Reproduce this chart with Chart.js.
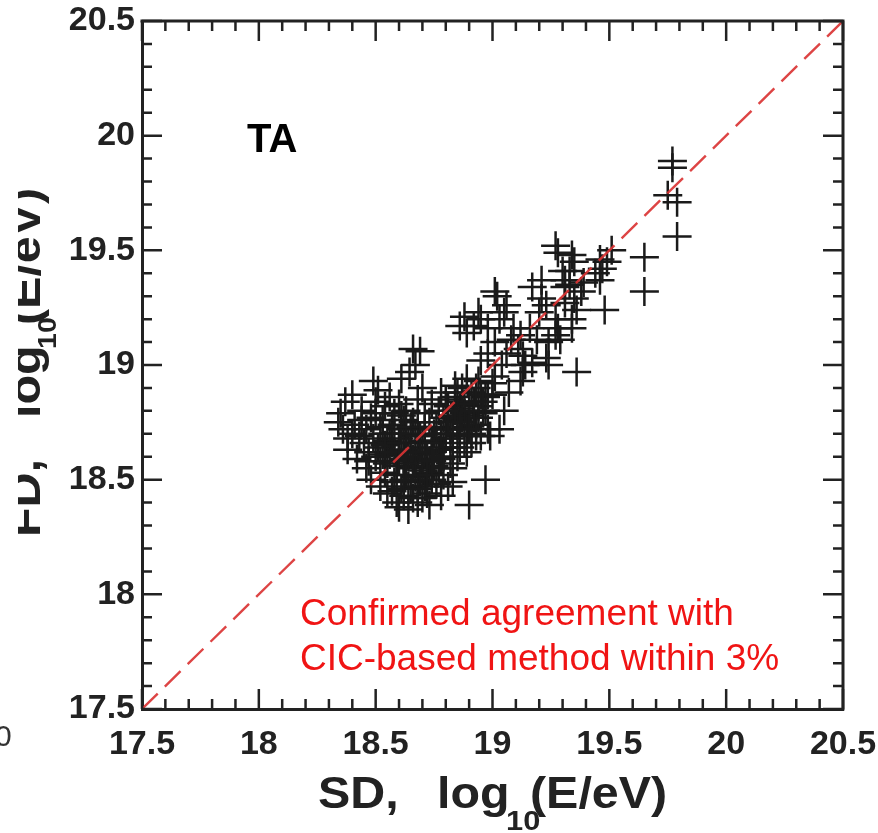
<!DOCTYPE html>
<html><head><meta charset="utf-8">
<style>html,body{margin:0;padding:0;background:#fff}canvas{display:block}</style>
<script src="https://cdn.jsdelivr.net/npm/chart.js@4.4.1/dist/chart.umd.min.js"></script>
</head><body>
<canvas id="c" width="878" height="833"></canvas>
<script>
// ---- data (log10 E/eV) ----
const sdEnergy = [
 19.77,19.77,19.75,19.79,19.79,19.65,19.65,19.48,19.36,19.27,
 19.28,19.34,19.35,19.33,19.51,19.49,19.47,19.46,19.30,19.31,
 19.31,19.38,19.35,19.36,19.34,19.21,19.17,19.21,19.23,19.20,
 19.27,19.28,19.27,19.24,19.23,19.24,19.13,19.12,19.14,19.01,
 19.02,19.06,19.05,18.94,18.95,18.92,18.86,18.89,18.98,19.03,
 19.09,19.08,19.11,19.06,19.01,18.98,18.95,19.04,19.01,19.00,
 18.98,18.66,18.69,18.67,18.645,18.61,18.97,18.90,18.83,19.44,
 19.33,19.31,19.16,19.19,19.12,19.34,18.88,19.46,19.39,19.29,
 19.17,
 18.34,18.35,18.37,18.40,18.38,18.38,18.42,18.43,18.41,18.44,
 18.46,18.48,18.47,18.45,18.46,18.48,18.49,18.51,18.50,18.52,
 18.52,18.51,18.53,18.50,18.55,18.54,18.56,18.55,18.57,18.54,
 18.56,18.59,18.58,18.59,18.60,18.58,18.61,18.60,18.62,18.63,
 18.62,18.64,18.61,18.64,18.65,18.66,18.65,18.67,18.66,18.63,
 18.70,18.68,18.69,18.70,18.69,18.71,18.68,18.72,18.73,18.72,
 18.74,18.71,18.73,18.76,18.75,18.77,18.76,18.74,18.78,18.79,
 18.78,18.80,18.79,18.78,18.81,18.82,18.83,18.82,18.81,18.84,
 18.83,18.85,18.86,18.85,18.86,18.87,18.88,18.89,18.88,18.90,
 18.89,18.91,18.92,18.91,18.93,18.94,18.95,18.96,18.94,18.97,
 18.98,19.00,18.99,18.47,18.49,18.53,18.53,18.55,18.57,18.58,
 18.59,18.60,18.62,18.62,18.63,18.64,18.66,18.67,18.68,18.68,
 18.70,18.70,18.71,18.73,18.73,18.74,18.75,18.77,18.77,18.79,
 18.80,18.80,18.82,18.83,18.84,18.85,18.86,18.87,18.87,18.89,
 18.90,18.91,18.92,18.93,18.94,18.95,18.97,18.57,18.61,18.66,
 18.70,18.60,18.74,18.44,18.40,18.36,19.13,19.03,19.07,19.05,
 18.50,18.52,18.54,18.56,18.58,18.60,18.61,18.63,18.64,18.65,
 18.67,18.69,18.71,18.72,18.74,18.76,18.78,18.79,18.81,18.83,
 18.84,18.86,18.88,18.90,18.92,18.93,18.96,18.85,18.68,18.62
];
const fdEnergy = [
 19.89,19.86,19.74,19.71,19.56,19.47,19.32,19.24,18.97,19.52,
 19.49,19.48,19.45,19.41,19.50,19.45,19.42,19.37,19.41,19.37,
 19.34,19.32,19.29,19.24,19.20,19.37,19.34,19.29,19.26,19.23,
 19.20,19.16,19.13,19.10,19.03,19.00,18.97,18.93,19.00,19.32,
 19.30,19.26,19.23,19.23,19.20,19.17,19.17,19.14,19.16,19.20,
 19.16,19.11,19.07,19.05,19.10,19.05,19.02,19.00,18.95,18.92,
 18.87,19.07,19.06,19.00,18.97,18.94,18.50,18.39,18.49,19.40,
 19.35,19.27,19.16,19.11,19.13,19.16,19.21,19.46,19.36,19.11,
 19.01,
 18.75,18.79,18.84,18.87,18.68,18.63,18.59,18.69,18.74,18.80,
 18.55,18.50,18.62,18.66,18.72,18.77,18.93,18.89,18.84,18.47,
 18.58,18.64,18.70,18.79,18.44,18.53,18.61,18.67,18.74,18.82,
 18.86,18.40,18.49,18.56,18.63,18.70,18.78,18.83,18.43,18.52,
 18.59,18.66,18.72,18.37,18.46,18.55,18.62,18.69,18.75,18.80,
 18.90,18.40,18.49,18.58,18.64,18.72,18.85,18.44,18.53,18.61,
 18.67,18.79,18.39,18.48,18.56,18.63,18.73,18.83,18.43,18.52,
 18.59,18.68,18.77,18.88,18.47,18.57,18.64,18.72,18.82,18.86,
 18.55,18.60,18.69,18.76,18.81,18.90,18.66,18.73,18.79,18.84,
 18.62,18.70,18.77,18.88,18.74,18.82,18.69,18.79,18.93,18.86,
 18.72,18.87,18.69,18.58,18.68,18.61,18.76,18.57,18.66,18.79,
 18.52,18.68,18.63,18.76,18.56,18.47,18.59,18.51,18.62,18.73,
 18.54,18.67,18.47,18.58,18.75,18.62,18.70,18.55,18.80,18.64,
 18.72,18.85,18.68,18.78,18.91,18.72,18.64,18.77,18.84,18.94,
 18.78,18.66,18.84,18.69,18.77,18.87,18.80,18.45,18.46,18.42,
 18.42,18.38,18.50,18.76,18.70,18.72,19.04,18.72,18.88,18.80,
 18.60,18.73,18.65,18.70,18.62,18.58,18.66,18.70,18.60,18.73,
 18.57,18.69,18.62,18.52,18.58,18.66,18.70,18.60,18.75,18.70,
 18.80,18.75,18.83,18.72,18.80,18.90,18.84,18.88,18.46,18.50
];
const diagX = [17.5, 20.5];
const diagY = [17.5, 20.5];
const tickValues = [17.5, 18, 18.5, 19, 19.5, 20, 20.5];
const tickLabels = ['17.5', '18', '18.5', '19', '19.5', '20', '20.5'];
const minorStep = 0.1;

const points = sdEnergy.map((x, i) => ({x: x, y: fdEnergy[i]}));
const diag = diagX.map((x, i) => ({x: x, y: diagY[i]}));

const frameTicks = {
  id: 'frameTicks',
  afterDraw(chart) {
    const {ctx, chartArea: a, scales: {x, y}} = chart;
    ctx.save();
    ctx.strokeStyle = '#222';
    ctx.lineWidth = 3;
    ctx.beginPath();
    ctx.moveTo(a.left - 1.5, a.top);
    ctx.lineTo(a.right, a.top);
    ctx.lineTo(a.right, a.bottom + 1.5);
    ctx.stroke();
    ctx.lineWidth = 2.5;
    ctx.beginPath();
    const n = Math.round((x.max - x.min) / minorStep);
    for (let i = 0; i <= n; i++) {
      const v = x.min + i * minorStep;
      const len = (i % 5 === 0) ? 20 : 10;
      const px = x.getPixelForValue(v);
      ctx.moveTo(px, a.bottom); ctx.lineTo(px, a.bottom - len);
      ctx.moveTo(px, a.top); ctx.lineTo(px, a.top + len);
      const py = y.getPixelForValue(v);
      ctx.moveTo(a.left, py); ctx.lineTo(a.left + len, py);
      ctx.moveTo(a.right, py); ctx.lineTo(a.right - len, py);
    }
    ctx.stroke();
    ctx.restore();
  }
};

function piece(ctx, text, x, y, size, sx) {
  ctx.save();
  ctx.font = 'bold ' + size + 'px "Liberation Sans", Arial, sans-serif';
  ctx.translate(x, y);
  ctx.scale(sx, 1);
  ctx.fillText(text, 0, 0);
  ctx.restore();
}

const texts = {
  id: 'texts',
  afterDraw(chart) {
    const ctx = chart.ctx;
    ctx.save();
    ctx.textBaseline = 'alphabetic';
    ctx.textAlign = 'left';
    ctx.fillStyle = '#000';
    ctx.font = 'bold 40px "Liberation Sans", Arial, sans-serif';
    ctx.fillText('TA', 247, 152);
    ctx.fillStyle = '#f01414';
    ctx.font = '37px "Liberation Sans", Arial, sans-serif';
    ctx.fillText('Confirmed agreement with', 300, 625);
    ctx.fillText('CIC-based method within 3%', 300, 670);
    // x axis title
    ctx.fillStyle = '#222';
    piece(ctx, 'SD,', 318, 808, 44, 1.1);
    piece(ctx, 'log', 437, 808, 44, 1.1);
    piece(ctx, '10', 506, 830, 28, 1.1);
    piece(ctx, '(E/eV)', 530, 808, 44, 1.1);
    // y axis title (cropped at left as in the source)
    ctx.save();
    ctx.beginPath();
    ctx.rect(18, 0, 120, 833);
    ctx.clip();
    ctx.translate(40, 537);
    ctx.rotate(-Math.PI / 2);
    piece(ctx, 'FD,', 0, 0, 44, 1.1);
    piece(ctx, 'log', 119, 0, 44, 1.1);
    piece(ctx, '10', 188, 16, 26, 1.1);
    piece(ctx, '(E/eV)', 212, 0, 44, 1.1);
    ctx.restore();
    // fragment of a neighbouring panel's tick label
    ctx.fillStyle = '#333';
    ctx.font = '30px "Liberation Sans", Arial, sans-serif';
    ctx.fillText('0', -5, 746);
    ctx.restore();
  }
};

const tickFont = {family: '"Liberation Sans", Arial, sans-serif', size: 34, weight: 'bold'};

new Chart(document.getElementById('c'), {
  type: 'scatter',
  data: {
    datasets: [
      {
        type: 'line',
        data: diag,
        borderColor: 'rgba(218,52,52,0.92)',
        borderWidth: 2.4,
        borderDash: [22, 10],
        pointRadius: 0,
        fill: false,
        order: 0
      },
      {
        data: points,
        pointStyle: 'cross',
        pointRadius: 14.5,
        pointHoverRadius: 14.5,
        borderWidth: 2.5,
        borderColor: '#1a1a1a',
        backgroundColor: '#1a1a1a',
        order: 1
      }
    ]
  },
  options: {
    responsive: false,
    animation: false,
    layout: {padding: {top: 21, right: 35, left: 0, bottom: 0}},
    plugins: {legend: {display: false}, tooltip: {enabled: false}},
    scales: {
      x: {
        type: 'linear', min: 17.5, max: 20.5,
        grid: {display: false, drawTicks: false},
        border: {display: true, color: '#222', width: 3},
        afterBuildTicks: s => { s.ticks = tickValues.map(v => ({value: v})); },
        afterFit: s => { s.height = 124; s.paddingLeft = 0; s.paddingRight = 0; },
        ticks: {
          autoSkip: false, maxRotation: 0, padding: 15, color: '#222', font: tickFont,
          callback: (v, i) => tickLabels[i]
        }
      },
      y: {
        type: 'linear', min: 17.5, max: 20.5,
        grid: {display: false, drawTicks: false},
        border: {display: true, color: '#222', width: 3},
        afterBuildTicks: s => { s.ticks = tickValues.map(v => ({value: v})); },
        afterFit: s => { s.width = 142; s.paddingTop = 0; s.paddingBottom = 0; },
        ticks: {
          autoSkip: false, padding: 7, color: '#222', font: tickFont,
          callback: (v, i) => tickLabels[i]
        }
      }
    }
  },
  plugins: [frameTicks, texts]
});
</script>
</body></html>
